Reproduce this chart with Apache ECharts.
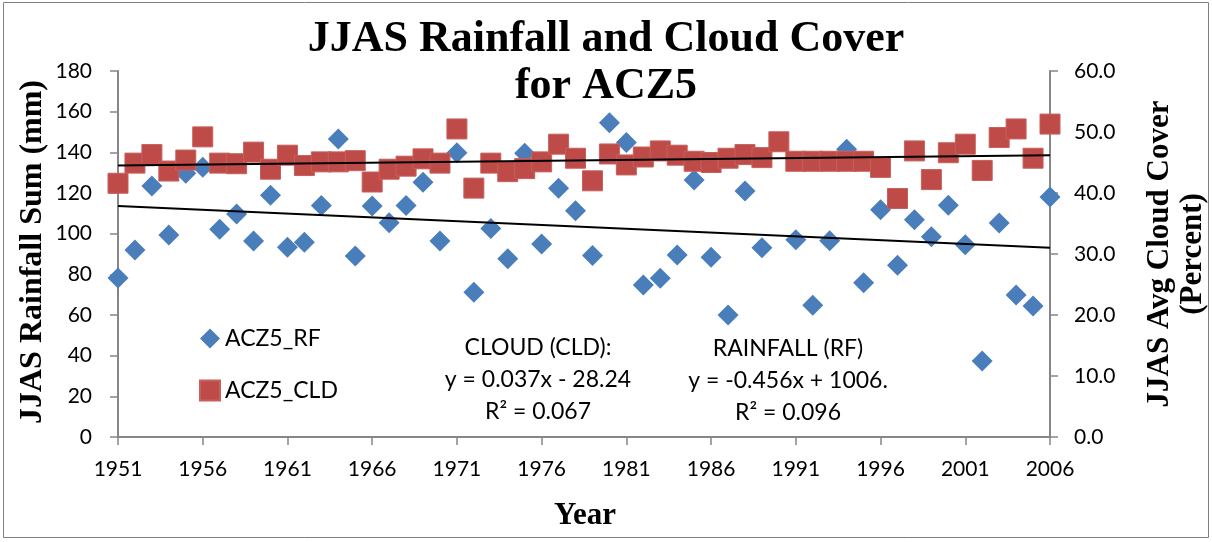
<!DOCTYPE html>
<html>
<head>
<meta charset="utf-8">
<script src="https://cdn.jsdelivr.net/npm/echarts@6/dist/echarts.min.js"></script>
<style>
  html, body { margin: 0; padding: 0; background: #fff; }
  #chart { width: 1212px; height: 542px; }
</style>
</head>
<body>
<div id="chart"></div>
<script>
// years 1951..2006
var years = [];
for (var y = 1951; y <= 2006; y++) years.push(y);

// JJAS rainfall sum (mm), left axis; 1990 not shown
var rainfall = [
  78.2, 92.0, 123.5, 99.4, 129.7, 132.7, 102.2, 109.7, 96.4, 118.9,
  93.3, 95.8, 113.8, 146.6, 89.0, 113.6, 105.4, 113.8, 125.3, 96.4,
  139.8, 71.2, 102.5, 87.7, 139.5, 94.9, 122.3, 111.3, 89.3, 154.6,
  144.8, 74.8, 78.1, 89.5, 126.4, 88.4, 60.0, 121.0, 93.1, null,
  97.0, 64.8, 96.5, 141.5, 75.8, 111.8, 84.5, 106.8, 98.5, 114.0,
  94.5, 37.4, 105.3, 69.8, 64.4, 118.0
];

// JJAS average cloud cover (percent), right axis
var cloud = [
  41.6, 44.9, 46.3, 43.6, 45.4, 49.2, 44.9, 44.8, 46.7, 43.9,
  46.2, 44.5, 45.1, 45.1, 45.3, 41.8, 43.9, 44.4, 45.6, 44.9,
  50.5, 40.8, 44.9, 43.5, 44.0, 45.1, 48.0, 45.7, 42.0, 46.4,
  44.6, 45.9, 46.9, 46.2, 45.2, 45.0, 45.7, 46.3, 45.8, 48.4,
  45.2, 45.2, 45.2, 45.2, 45.2, 44.2, 39.1, 46.9, 42.2, 46.6,
  48.0, 43.7, 49.1, 50.5, 45.7, 51.3
];

// linear trend end points as drawn (1951 and 2006)
var trendYears = [1951, 2006];
var rfTrend = [113.6, 93.1];
var cldTrend = [44.5, 46.2];

var rfData = years.map(function (yr, i) { return [yr, rainfall[i]]; }).filter(function (d) { return d[1] != null; });
var cldData = years.map(function (yr, i) { return [yr, cloud[i]]; });
var rfTrendData = trendYears.map(function (yr, i) { return [yr, rfTrend[i]]; });
var cldTrendData = trendYears.map(function (yr, i) { return [yr, cldTrend[i]]; });

var sansFont = 'Lato';
var serifFont = '"Liberation Serif", "DejaVu Serif", serif';
var axisGrey = '#868686';

var chart = echarts.init(document.getElementById('chart'));

var option = {
  animation: false,
  backgroundColor: '#fff',
  title: {
    text: 'JJAS Rainfall and Cloud Cover\nfor ACZ5',
    left: 'center',
    top: 11,
    textStyle: {
      fontFamily: serifFont,
      fontWeight: 'bold',
      fontSize: 44,
      lineHeight: 47,
      color: '#000'
    }
  },
  legend: {
    data: [
      { name: 'ACZ5_RF', icon: 'diamond' },
      { name: 'ACZ5_CLD', icon: 'rect' }
    ],
    orient: 'vertical',
    left: 194,
    top: 322,
    itemWidth: 20,
    itemHeight: 20,
    itemGap: 29,
    textStyle: { fontFamily: sansFont, fontSize: 23, color: '#000' }
  },
  grid: { left: 118, right: 162, top: 71, bottom: 105 },
  xAxis: {
    type: 'value',
    min: 1951,
    max: 2006,
    interval: 5,
    splitLine: { show: false },
    axisLine: { lineStyle: { color: axisGrey, width: 2 } },
    axisTick: { show: true, length: 8, lineStyle: { color: axisGrey, width: 1.5 } },
    axisLabel: {
      margin: 22, fontFamily: sansFont, fontSize: 21, color: '#000',
      formatter: function (v) { return String(v); }
    }
  },
  yAxis: [
    {
      type: 'value',
      min: 0,
      max: 180,
      interval: 20,
      position: 'left',
      splitLine: { show: false },
      axisLine: { show: true, lineStyle: { color: axisGrey, width: 2 } },
      axisTick: { show: true, length: 8, lineStyle: { color: axisGrey, width: 1.5 } },
      axisLabel: { margin: 26, fontFamily: sansFont, fontSize: 21, color: '#000' }
    },
    {
      type: 'value',
      min: 0,
      max: 60,
      interval: 10,
      position: 'right',
      splitLine: { show: false },
      axisLine: { show: true, lineStyle: { color: axisGrey, width: 2 } },
      axisTick: { show: true, length: 8, lineStyle: { color: axisGrey, width: 1.5 } },
      axisLabel: {
        margin: 24,
        fontFamily: sansFont,
        fontSize: 21,
        color: '#000',
        formatter: function (v) { return v.toFixed(1); }
      }
    }
  ],
  series: [
    {
      name: 'ACZ5_RF',
      type: 'scatter',
      yAxisIndex: 0,
      symbol: 'diamond',
      symbolSize: 21,
      itemStyle: { color: '#4a7ebb', opacity: 1 },
      data: rfData
    },
    {
      name: 'ACZ5_CLD',
      type: 'scatter',
      yAxisIndex: 1,
      symbol: 'rect',
      symbolSize: 20,
      itemStyle: { color: '#be4b48', borderColor: '#c6605d', borderWidth: 1, opacity: 1 },
      data: cldData
    },
    {
      name: 'RF trend',
      type: 'line',
      yAxisIndex: 0,
      showSymbol: false,
      symbol: 'none',
      lineStyle: { color: '#000', width: 2 },
      data: rfTrendData
    },
    {
      name: 'CLD trend',
      type: 'line',
      yAxisIndex: 1,
      showSymbol: false,
      symbol: 'none',
      lineStyle: { color: '#000', width: 2 },
      data: cldTrendData
    }
  ],
  graphic: [
    {
      type: 'rect',
      shape: { x: 3.5, y: 2.5, width: 1205, height: 535 },
      style: { fill: null, stroke: '#7f7f7f', lineWidth: 1 },
      silent: true
    },
    {
      type: 'text',
      x: 33, y: 252, rotation: Math.PI / 2,
      style: {
        text: 'JJAS Rainfall Sum (mm)',
        font: 'bold 32px ' + serifFont,
        fill: '#000', align: 'center', verticalAlign: 'middle'
      }
    },
    {
      type: 'text',
      x: 1160, y: 254, rotation: Math.PI / 2,
      style: {
        text: 'JJAS Avg Cloud Cover',
        font: 'bold 31px ' + serifFont,
        fill: '#000', align: 'center', verticalAlign: 'middle'
      }
    },
    {
      type: 'text',
      x: 1193, y: 254, rotation: Math.PI / 2,
      style: {
        text: '(Percent)',
        font: 'bold 31px ' + serifFont,
        fill: '#000', align: 'center', verticalAlign: 'middle'
      }
    },
    {
      type: 'text',
      x: 585, y: 516,
      style: {
        text: 'Year',
        font: 'bold 31px ' + serifFont,
        fill: '#000', align: 'center', verticalAlign: 'middle'
      }
    },
    {
      type: 'text',
      x: 538, y: 380,
      style: {
        text: 'CLOUD (CLD):\ny = 0.037x - 28.24\nR² = 0.067',
        font: '23px ' + sansFont,
        lineHeight: 32,
        fill: '#000', align: 'center', verticalAlign: 'middle'
      }
    },
    {
      type: 'text',
      x: 788, y: 381,
      style: {
        text: 'RAINFALL (RF)\ny = -0.456x + 1006.\nR² = 0.096',
        font: '23px ' + sansFont,
        lineHeight: 32,
        fill: '#000', align: 'center', verticalAlign: 'middle'
      }
    }
  ]
};

chart.setOption(option);
</script>
</body>
</html>
